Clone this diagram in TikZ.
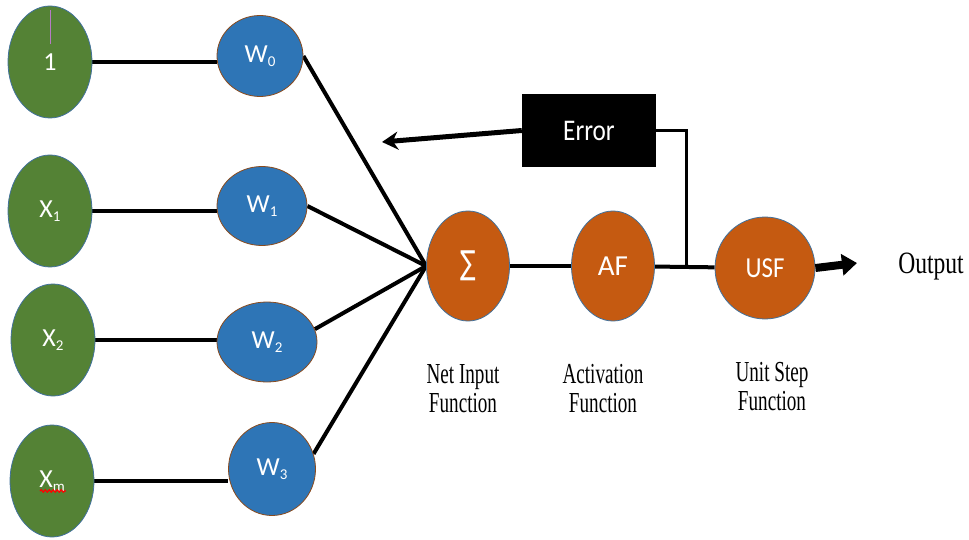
\documentclass[tikz,border=0pt]{standalone}
\usepackage{fontspec}
\usepackage{graphicx}
\setmainfont{Liberation Serif}
\newfontfamily\calfont{Carlito}
\newfontfamily\symfont{DejaVu Sans}
\usetikzlibrary{arrows.meta,backgrounds,shapes.geometric,decorations.pathmorphing}

\definecolor{inputgreen}{HTML}{548235}
\definecolor{weightblue}{HTML}{2E75B6}
\definecolor{unitorange}{HTML}{C55A11}
\definecolor{rimblue}{HTML}{41719C}
\definecolor{rimbrown}{HTML}{8A4B1E}
\definecolor{cursorpink}{HTML}{B77BC4}

% Office-style text is narrow: squeeze it horizontally
\newcommand\narrowtext[2][0.8]{\scalebox{#1}[1]{#2}}
% letter with a lowered index
\newcommand\idx[2]{#1\raisebox{-0.35ex}{\fontsize{15}{15}\selectfont #2}}

\tikzset{
  innode/.style={ellipse, fill=inputgreen, draw=rimblue, line width=0.8pt,
    inner sep=0pt, minimum width=84pt, minimum height=112pt, text=white,
    font=\calfont\fontsize{26}{26}\selectfont},
  wnode/.style={ellipse, fill=weightblue, draw=rimbrown, line width=0.8pt,
    inner sep=0pt, text=white, font=\calfont\fontsize{26}{26}\selectfont},
  unode/.style={ellipse, fill=unitorange, draw=rimblue, line width=0.8pt,
    inner sep=0pt, text=white, font=\calfont\fontsize{29}{29}\selectfont},
  errbox/.style={rectangle, fill=black, inner sep=0pt, minimum width=134pt,
    minimum height=73pt, text=white, font=\calfont\fontsize{30}{30}\selectfont},
  caption/.style={inner sep=0pt, align=center,
    font=\fontsize{29}{29}\selectfont},
  wire/.style={line width=4pt, black},
}

\begin{document}
\begin{tikzpicture}[x=1pt, y=-1pt]
\useasboundingbox (0,0) rectangle (969,540);

% inputs
\node[innode] (g0) at (50,62)  {1};
\node[innode] (g1) at (50,211) {\idx{X}{1}};
\node[innode] (g2) at (53,340) {\idx{X}{2}};
\node[innode] (g3) at (52,481) {\idx{X}{m}};

% weights
\node[wnode, minimum width=86pt, minimum height=81pt] (w0) at (260,56)  {\idx{W}{0}};
\node[wnode, minimum width=90pt, minimum height=79pt] (w1) at (262,206) {\idx{W}{1}};
\node[wnode, minimum width=100pt, minimum height=80pt] (w2) at (267,342) {\idx{W}{2}};
\node[wnode, minimum width=87pt, minimum height=93pt] (w3) at (272,469) {\idx{W}{3}};

% processing units
\node[unode, minimum width=83pt, minimum height=110pt] (sum) at (468,266)
  {\narrowtext[0.7]{\symfont\fontsize{33}{33}\selectfont ∑}};
\node[unode, minimum width=83pt, minimum height=110pt] (af)  at (613,266) {AF};
\node[unode, minimum width=100pt, minimum height=102pt] (usf) at (765,268) {\narrowtext[0.86]{USF}};

% error feedback
\node[errbox] (err) at (589,130.5) {\narrowtext[0.84]{Error}};

% captions
\node[caption] (cap1) at (463,392) {\narrowtext[0.66]{\begin{tabular}{@{}c@{}}Net Input\\Function\end{tabular}}};
\node[caption] (cap2) at (603,392) {\narrowtext[0.66]{\begin{tabular}{@{}c@{}}Activation\\Function\end{tabular}}};
\node[caption] (cap3) at (772,390) {\narrowtext[0.66]{\begin{tabular}{@{}c@{}}Unit Step\\Function\end{tabular}}};
\node[inner sep=0pt, font=\fontsize{31}{31}\selectfont] (out) at (931,267) {\narrowtext[0.76]{Output}};

\coordinate (join) at (686,265);
\coordinate (fbtip) at (382,142);
\coordinate (outtip) at (857,263);

\begin{pgfonlayer}{background}
  % input to weight links
  \draw[wire] (g0.east) -- (g0.east -| w0.west);
  \draw[wire] (g1.east) -- (g1.east -| w1.west);
  \draw[wire] (g2.east) -- (g2.east -| w2.west);
  \draw[wire] (g3.east) -- (g3.east -| w3.west);
  % weights converge on the summation
  \draw[wire] (w0.east) -- (sum.west);
  \draw[wire] (w1.east) -- (sum.west);
  \draw[wire] (w2.15) -- (sum.west);
  \draw[wire] (w3.20) -- (sum.west);
  % forward chain
  \draw[wire] (sum) -- (af);
  \draw[wire] (af) -- (usf);
  % feedback tap
  \draw[line width=3pt] (join) |- (err.east);
\end{pgfonlayer}

\draw[line width=5pt, -{Stealth[length=16pt,width=18pt]}] (err.west) -- (fbtip);
\draw[line width=8pt, -{Triangle[length=15pt,width=21pt]}] (usf.east) -- (outtip);

% editor marks: text cursor and spelling underline
\draw[cursorpink, line width=1pt] (50,10) -- (50,44);
\draw[red, line width=1.2pt, decorate,
      decoration={snake, segment length=4pt, amplitude=1.2pt}] (40,491) -- (66,491);
\end{tikzpicture}
\end{document}
